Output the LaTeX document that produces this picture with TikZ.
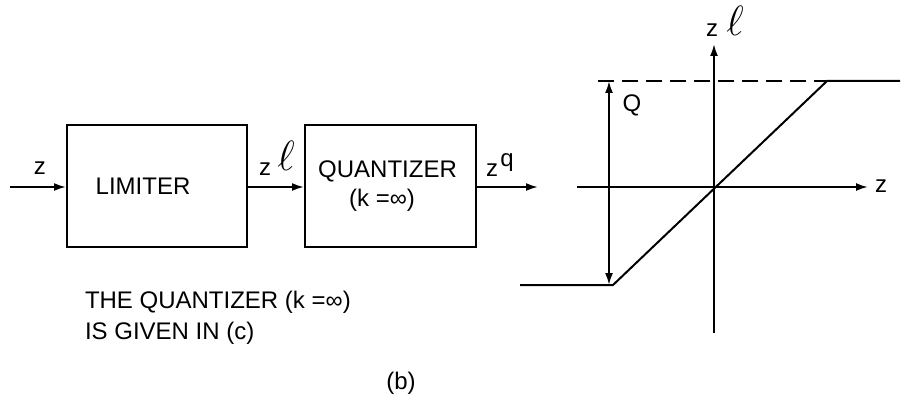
\documentclass[tikz,border=0pt]{standalone}
\usepackage{fontspec}
\usepackage{graphicx}
\setmainfont{Liberation Sans}
\usetikzlibrary{arrows.meta}
\begin{document}
\begin{tikzpicture}[x=1pt,y=-1pt,
  line width=2pt,
  txt/.style={font=\fontsize{24}{28}\selectfont, inner sep=0pt},
  box/.style={draw, line width=2pt, minimum width=#1, minimum height=121pt, inner sep=0pt},
  arr/.style={-{Latex[length=12pt,width=8pt]}},
  dbl/.style={{Latex[length=12pt,width=8pt]}-{Latex[length=12pt,width=8pt]}},
  ell/.style={font=\fontsize{24}{28}\selectfont, inner sep=0pt}
]
\useasboundingbox (0,0) rectangle (905,409);
% block diagram
\node[box=180pt] (lim) at (157,186) {};
\node[txt] (limt) at (143,186) {LIMITER};
\node[box=171pt] (qnt) at (390.5,186) {};
\node[txt] (qt1) at (387.5,171) {QUANTIZER};
\node[txt] (qt2) at (382,200) {(k =∞)};
\coordinate (in) at (10,187);
\coordinate (out) at (538,187);
\draw[arr] (in) -- (lim.west |- in);
\draw[arr] (lim.east |- in) -- (qnt.west |- in);
\draw[arr] (qnt.east |- in) -- (out);
\node[txt] (zin) at (40,168) {z};
\node[txt] (zl1) at (265,169) {z};
\node[ell] (ll1) at (286,156) {\scalebox{1.7}{$\ell$}};
\node[txt] (zq1) at (492,170) {z};
\node[txt] (qq1) at (507,163) {q};
% notes
\node[txt, anchor=west] (n1) at (84,302) {THE QUANTIZER (k =∞)};
\node[txt, anchor=west] (n2) at (84,333) {IS GIVEN IN (c)};
\node[txt] (cap) at (401,383) {(b)};
% graph
\coordinate (xl) at (577,187);
\coordinate (xr) at (868,187);
\coordinate (yb) at (714,333);
\coordinate (yt) at (714,44);
\draw[arr] (xl) -- (xr);
\draw[arr] (yb) -- (yt);
\node[txt] (zax) at (881,186) {z};
\node[txt] (zay) at (712,30) {z};
\node[ell] (lay) at (735,21) {\scalebox{1.7}{$\ell$}};
\coordinate (lo0) at (520,285);
\coordinate (lo1) at (613,285);
\coordinate (hi1) at (827,81);
\coordinate (hi0) at (900,81);
\draw[line join=miter] (lo0) -- (lo1) -- (hi1) -- (hi0);
\coordinate (dl) at (598,81);
\draw[dash pattern=on 16pt off 8pt] (dl) -- (hi1);
\coordinate (qa) at (609,81);
\coordinate (qb) at (609,285);
\draw[dbl] (qa) -- (qb);
\node[txt] (Q) at (632,105) {Q};
\end{tikzpicture}
\end{document}
